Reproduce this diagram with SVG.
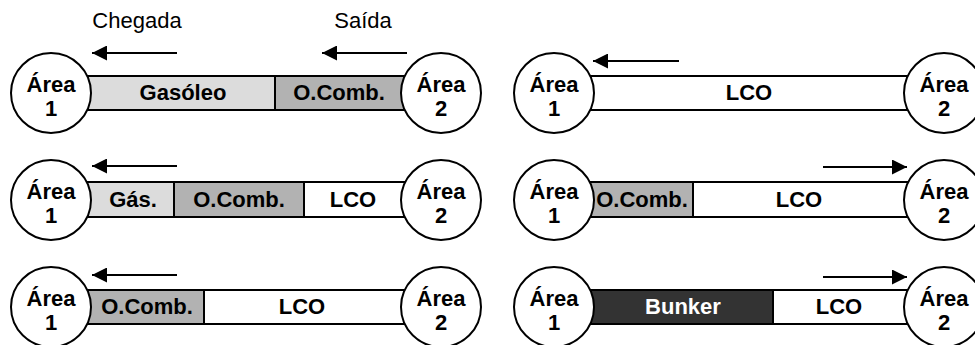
<svg xmlns="http://www.w3.org/2000/svg" width="975" height="345" viewBox="0 0 975 345">
  <defs>
    <marker id="head" viewBox="0 0 10 10" refX="10" refY="5" markerWidth="17" markerHeight="15" markerUnits="userSpaceOnUse" orient="auto">
      <path d="M0,0 L10,5 L0,10 Z" fill="#000"/>
    </marker>
    <style>
      .seg { stroke: #000; stroke-width: 2; }
      .gas { fill: #dcdcdc; }
      .oc { fill: #b2b2b2; }
      .lco { fill: #ffffff; }
      .bunk { fill: #333333; }
      .area circle { fill: #fff; stroke: #000; stroke-width: 2; }
      text { font-family: "Liberation Sans", Arial, sans-serif; text-anchor: middle; }
      .lbl { font-size: 22px; font-weight: bold; fill: #000; }
      .wlbl { font-size: 22px; font-weight: bold; fill: #fff; }
      .cap { font-size: 22px; fill: #000; }
      .flow { stroke: #000; stroke-width: 2; fill: none; marker-end: url(#head); }
    </style>
  </defs>

  <rect width="975" height="345" fill="#fff"/>

  <!-- flow direction labels -->
  <text class="cap" x="137" y="28">Chegada</text>
  <text class="cap" x="363" y="28">Saída</text>

  <!-- pipeline segments -->
  <g id="pipe-r1-left">
    <rect class="seg gas" x="51" y="76" width="224" height="34"/>
    <rect class="seg oc" x="275" y="76" width="166" height="34"/>
    <text class="lbl" x="183" y="100">Gasóleo</text>
    <text class="lbl" x="339" y="100">O.Comb.</text>
  </g>
  <g id="pipe-r1-right">
    <rect class="seg lco" x="554" y="76" width="390" height="34"/>
    <text class="lbl" x="749" y="100">LCO</text>
  </g>
  <g id="pipe-r2-left">
    <rect class="seg gas" x="51" y="182" width="123" height="35"/>
    <rect class="seg oc" x="174" y="182" width="130" height="35"/>
    <rect class="seg lco" x="304" y="182" width="137" height="35"/>
    <text class="lbl" x="133" y="207">Gás.</text>
    <text class="lbl" x="239" y="207">O.Comb.</text>
    <text class="lbl" x="353" y="207">LCO</text>
  </g>
  <g id="pipe-r2-right">
    <rect class="seg oc" x="554" y="182" width="139" height="35"/>
    <rect class="seg lco" x="693" y="182" width="251" height="35"/>
    <text class="lbl" x="642" y="207">O.Comb.</text>
    <text class="lbl" x="799" y="207">LCO</text>
  </g>
  <g id="pipe-r3-left">
    <rect class="seg oc" x="51" y="290" width="153" height="34"/>
    <rect class="seg lco" x="204" y="290" width="237" height="34"/>
    <text class="lbl" x="147" y="314">O.Comb.</text>
    <text class="lbl" x="302" y="314">LCO</text>
  </g>
  <g id="pipe-r3-right">
    <rect class="seg bunk" x="554" y="290" width="219" height="34"/>
    <rect class="seg lco" x="773" y="290" width="171" height="34"/>
    <text class="wlbl" x="683" y="314">Bunker</text>
    <text class="lbl" x="839" y="314">LCO</text>
  </g>

  <!-- area nodes -->
  <g id="r1-area1" class="area"><circle cx="51" cy="93" r="40"/><text class="lbl" x="51" y="92">Área</text><text class="lbl" x="51" y="116">1</text></g>
  <g id="r1-area2" class="area"><circle cx="441" cy="93" r="40"/><text class="lbl" x="441" y="92">Área</text><text class="lbl" x="441" y="116">2</text></g>
  <g id="r1-area1b" class="area"><circle cx="554" cy="93" r="40"/><text class="lbl" x="554" y="92">Área</text><text class="lbl" x="554" y="116">1</text></g>
  <g id="r1-area2b" class="area"><circle cx="944" cy="93" r="40"/><text class="lbl" x="944" y="92">Área</text><text class="lbl" x="944" y="116">2</text></g>

  <g id="r2-area1" class="area"><circle cx="51" cy="200" r="40"/><text class="lbl" x="51" y="199">Área</text><text class="lbl" x="51" y="223">1</text></g>
  <g id="r2-area2" class="area"><circle cx="441" cy="200" r="40"/><text class="lbl" x="441" y="199">Área</text><text class="lbl" x="441" y="223">2</text></g>
  <g id="r2-area1b" class="area"><circle cx="554" cy="200" r="40"/><text class="lbl" x="554" y="199">Área</text><text class="lbl" x="554" y="223">1</text></g>
  <g id="r2-area2b" class="area"><circle cx="944" cy="200" r="40"/><text class="lbl" x="944" y="199">Área</text><text class="lbl" x="944" y="223">2</text></g>

  <g id="r3-area1" class="area"><circle cx="51" cy="307" r="40"/><text class="lbl" x="51" y="306">Área</text><text class="lbl" x="51" y="330">1</text></g>
  <g id="r3-area2" class="area"><circle cx="441" cy="307" r="40"/><text class="lbl" x="441" y="306">Área</text><text class="lbl" x="441" y="330">2</text></g>
  <g id="r3-area1b" class="area"><circle cx="554" cy="307" r="40"/><text class="lbl" x="554" y="306">Área</text><text class="lbl" x="554" y="330">1</text></g>
  <g id="r3-area2b" class="area"><circle cx="944" cy="307" r="40"/><text class="lbl" x="944" y="306">Área</text><text class="lbl" x="944" y="330">2</text></g>

  <!-- flow arrows -->
  <g id="connectors">
    <line class="flow" x1="177" y1="53" x2="92" y2="53"/>
    <line class="flow" x1="407" y1="53" x2="322" y2="53"/>
    <line class="flow" x1="679" y1="61" x2="593" y2="61"/>
    <line class="flow" x1="177" y1="166" x2="92" y2="166"/>
    <line class="flow" x1="823" y1="167" x2="907" y2="167"/>
    <line class="flow" x1="177" y1="275" x2="92" y2="275"/>
    <line class="flow" x1="823" y1="277" x2="907" y2="277"/>
  </g>
</svg>
